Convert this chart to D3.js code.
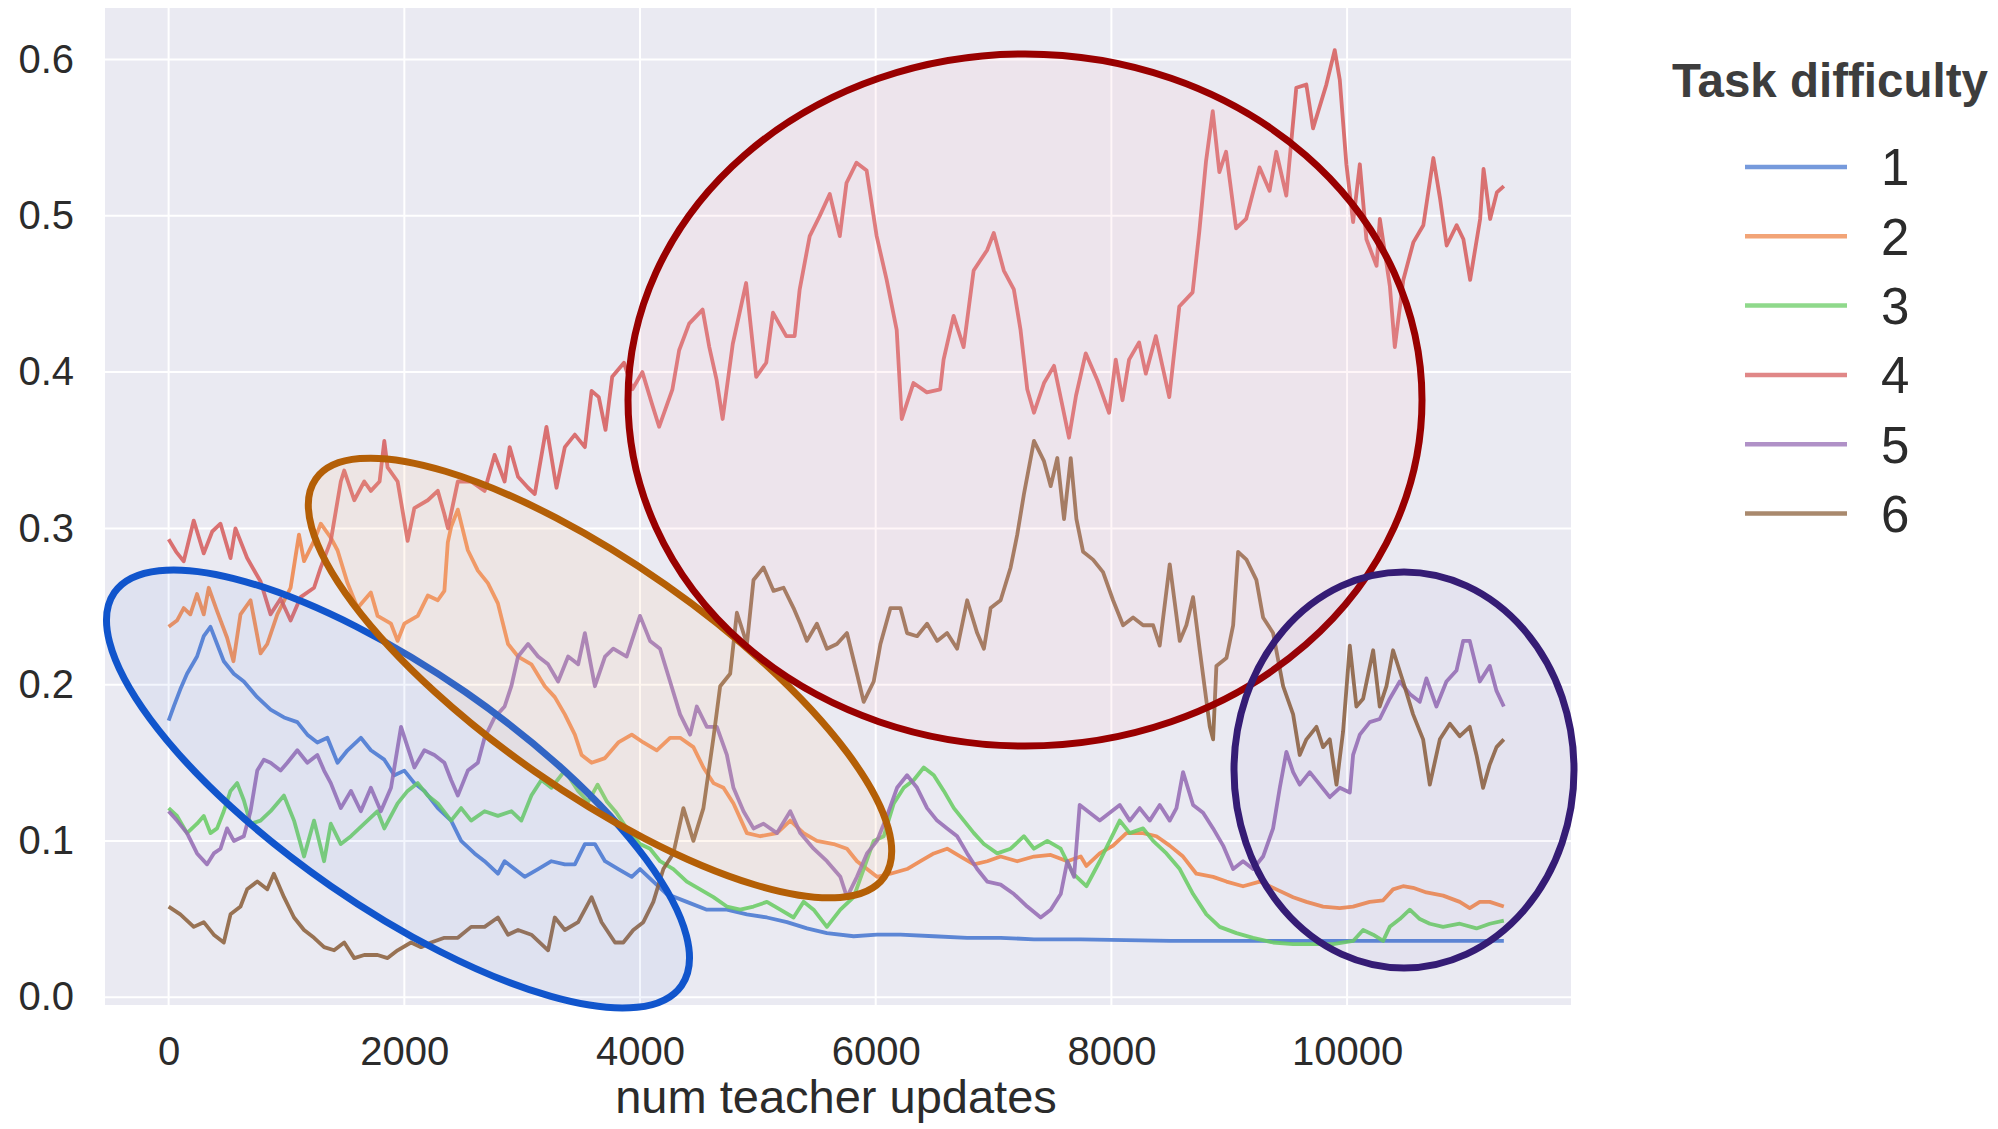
<!DOCTYPE html>
<html lang="en">
	<head>
		<meta charset="utf-8">
		<title>Task difficulty vs teacher updates</title>
		<script src="https://cdn.jsdelivr.net/npm/d3@7"></script>
		<style type="text/css">
			body { margin: 0; background: #fff; }
			text { font-family: "Liberation Sans", Arial, sans-serif; }
		</style>
	</head>
	<body>
		<div id="chart"></div>
		<script type="text/javascript">
		//Data: [num teacher updates, value]
			var task1 = [[0,0.177],[43,0.186],[99,0.197],[156,0.207],[241,0.218],[298,0.231],[355,0.237],[411,0.226],[468,0.215],[553,0.207],[638,0.202],[752,0.192],[865,0.184],[979,0.179],[1092,0.176],[1177,0.168],[1262,0.163],[1347,0.166],[1433,0.150],[1518,0.158],[1631,0.166],[1716,0.158],[1830,0.152],[1915,0.142],[2000,0.145],[2085,0.137],[2170,0.132],[2284,0.121],[2397,0.113],[2482,0.100],[2596,0.092],[2681,0.087],[2794,0.079],[2851,0.087],[2936,0.082],[3021,0.077],[3135,0.082],[3248,0.087],[3362,0.085],[3447,0.085],[3532,0.098],[3617,0.098],[3703,0.087],[3816,0.082],[3930,0.077],[4000,0.082],[4113,0.074],[4227,0.066],[4397,0.061],[4567,0.056],[4737,0.056],[4907,0.053],[5077,0.051],[5247,0.048],[5417,0.044],[5586,0.041],[5813,0.039],[6011,0.040],[6210,0.040],[6493,0.039],[6776,0.038],[7060,0.038],[7343,0.037],[7740,0.037],[8500,0.036],[9500,0.036],[10500,0.036],[11330,0.036]];

			var task2 = [[0,0.237],[71,0.241],[128,0.249],[184,0.245],[241,0.258],[298,0.245],[340,0.262],[411,0.247],[496,0.230],[550,0.215],[610,0.245],[695,0.254],[780,0.220],[837,0.226],[922,0.245],[1035,0.262],[1106,0.296],[1149,0.279],[1234,0.292],[1291,0.303],[1376,0.294],[1433,0.286],[1518,0.265],[1603,0.249],[1716,0.259],[1773,0.244],[1887,0.239],[1943,0.228],[2000,0.239],[2114,0.244],[2199,0.257],[2284,0.254],[2340,0.260],[2369,0.291],[2397,0.301],[2454,0.312],[2539,0.286],[2624,0.273],[2709,0.265],[2794,0.252],[2880,0.226],[2965,0.218],[3078,0.213],[3192,0.199],[3277,0.192],[3362,0.181],[3447,0.168],[3504,0.155],[3589,0.150],[3703,0.153],[3816,0.163],[3930,0.168],[4028,0.163],[4142,0.158],[4255,0.166],[4340,0.166],[4453,0.160],[4538,0.147],[4623,0.137],[4708,0.134],[4793,0.124],[4907,0.105],[5020,0.103],[5162,0.105],[5275,0.113],[5388,0.105],[5501,0.100],[5643,0.098],[5756,0.095],[5841,0.087],[5926,0.082],[6011,0.077],[6125,0.079],[6266,0.082],[6380,0.087],[6493,0.092],[6606,0.095],[6720,0.090],[6833,0.085],[6946,0.087],[7060,0.090],[7201,0.087],[7343,0.090],[7485,0.091],[7626,0.087],[7740,0.090],[7788,0.084],[7901,0.092],[8014,0.097],[8127,0.105],[8269,0.105],[8382,0.103],[8495,0.097],[8608,0.090],[8721,0.079],[8863,0.077],[8976,0.074],[9117,0.071],[9259,0.074],[9400,0.069],[9542,0.064],[9655,0.061],[9796,0.058],[9938,0.057],[10051,0.058],[10192,0.061],[10306,0.062],[10390,0.069],[10475,0.071],[10560,0.070],[10673,0.067],[10815,0.065],[10956,0.061],[11041,0.057],[11126,0.061],[11211,0.061],[11330,0.058]];

			var task3 = [[0,0.121],[71,0.116],[156,0.105],[241,0.111],[298,0.116],[355,0.105],[411,0.108],[468,0.119],[525,0.132],[582,0.137],[638,0.126],[695,0.111],[780,0.113],[865,0.119],[979,0.129],[1064,0.113],[1149,0.090],[1234,0.113],[1319,0.087],[1376,0.111],[1461,0.098],[1547,0.103],[1660,0.111],[1773,0.119],[1830,0.108],[1943,0.124],[2028,0.132],[2114,0.137],[2199,0.129],[2284,0.124],[2397,0.113],[2482,0.121],[2567,0.113],[2681,0.119],[2794,0.116],[2908,0.119],[2993,0.113],[3078,0.129],[3163,0.139],[3248,0.134],[3362,0.145],[3475,0.132],[3560,0.125],[3640,0.136],[3720,0.125],[3800,0.118],[3887,0.108],[4000,0.098],[4085,0.095],[4170,0.087],[4283,0.082],[4397,0.074],[4510,0.069],[4623,0.064],[4737,0.058],[4850,0.056],[4963,0.058],[5077,0.061],[5190,0.056],[5303,0.051],[5388,0.061],[5473,0.056],[5586,0.045],[5700,0.056],[5813,0.064],[5898,0.082],[5983,0.100],[6068,0.103],[6153,0.124],[6238,0.134],[6323,0.139],[6408,0.147],[6493,0.142],[6578,0.132],[6663,0.121],[6748,0.113],[6833,0.105],[6918,0.098],[7031,0.092],[7145,0.095],[7258,0.103],[7343,0.095],[7456,0.100],[7570,0.095],[7675,0.079],[7788,0.071],[7901,0.087],[7986,0.100],[8071,0.113],[8156,0.105],[8269,0.108],[8354,0.100],[8467,0.092],[8580,0.082],[8693,0.066],[8806,0.053],[8919,0.045],[9061,0.041],[9202,0.038],[9372,0.035],[9542,0.034],[9712,0.034],[9881,0.034],[10051,0.036],[10136,0.043],[10221,0.040],[10306,0.036],[10362,0.045],[10447,0.050],[10532,0.056],[10617,0.050],[10702,0.047],[10815,0.045],[10956,0.047],[11098,0.044],[11211,0.047],[11330,0.049]];

			var task4 = [[0,0.293],[64,0.285],[128,0.279],[213,0.305],[298,0.284],[370,0.298],[440,0.303],[525,0.281],[567,0.300],[666,0.281],[780,0.266],[865,0.245],[950,0.255],[1035,0.241],[1120,0.256],[1234,0.262],[1291,0.275],[1376,0.292],[1461,0.330],[1490,0.337],[1575,0.318],[1660,0.330],[1716,0.324],[1790,0.330],[1830,0.356],[1858,0.339],[1943,0.330],[2028,0.292],[2085,0.313],[2199,0.318],[2284,0.324],[2340,0.309],[2370,0.300],[2454,0.330],[2567,0.330],[2681,0.324],[2766,0.347],[2851,0.330],[2894,0.352],[2965,0.333],[3050,0.326],[3107,0.322],[3206,0.365],[3291,0.326],[3362,0.352],[3447,0.360],[3532,0.352],[3589,0.388],[3650,0.384],[3707,0.363],[3764,0.397],[3864,0.406],[3935,0.389],[4020,0.400],[4100,0.380],[4162,0.365],[4275,0.389],[4332,0.414],[4417,0.431],[4531,0.440],[4588,0.416],[4650,0.395],[4701,0.370],[4787,0.418],[4900,0.457],[4986,0.397],[5071,0.406],[5128,0.438],[5241,0.423],[5312,0.423],[5355,0.453],[5440,0.487],[5525,0.500],[5610,0.514],[5695,0.487],[5752,0.521],[5837,0.534],[5923,0.529],[6008,0.487],[6093,0.459],[6178,0.427],[6221,0.370],[6320,0.393],[6434,0.387],[6547,0.389],[6576,0.408],[6661,0.436],[6746,0.416],[6831,0.465],[6945,0.478],[7002,0.489],[7087,0.465],[7172,0.453],[7229,0.427],[7286,0.389],[7343,0.374],[7428,0.393],[7513,0.404],[7580,0.380],[7640,0.358],[7700,0.385],[7782,0.412],[7880,0.395],[7980,0.374],[8037,0.408],[8094,0.382],[8150,0.408],[8235,0.419],[8292,0.399],[8377,0.423],[8491,0.384],[8576,0.442],[8689,0.451],[8746,0.490],[8803,0.535],[8860,0.567],[8916,0.528],[8973,0.541],[9058,0.492],[9143,0.498],[9257,0.531],[9342,0.516],[9399,0.541],[9484,0.513],[9569,0.582],[9654,0.584],[9711,0.556],[9824,0.584],[9895,0.606],[9938,0.587],[9994,0.533],[10051,0.496],[10108,0.533],[10164,0.485],[10250,0.468],[10278,0.498],[10363,0.455],[10405,0.416],[10477,0.459],[10562,0.483],[10647,0.494],[10732,0.537],[10789,0.511],[10845,0.481],[10930,0.494],[10987,0.485],[11044,0.459],[11129,0.498],[11158,0.530],[11214,0.498],[11271,0.515],[11330,0.519]];

			var task5 = [[0,0.119],[71,0.113],[156,0.105],[241,0.092],[326,0.085],[383,0.092],[440,0.095],[496,0.108],[553,0.100],[638,0.103],[695,0.119],[752,0.145],[808,0.152],[865,0.150],[950,0.145],[1007,0.150],[1092,0.158],[1177,0.150],[1262,0.155],[1319,0.145],[1376,0.137],[1461,0.121],[1547,0.132],[1631,0.119],[1716,0.134],[1801,0.119],[1887,0.134],[1972,0.173],[2028,0.160],[2085,0.147],[2170,0.158],[2255,0.155],[2340,0.150],[2397,0.139],[2454,0.129],[2539,0.145],[2624,0.150],[2681,0.166],[2766,0.179],[2851,0.186],[2908,0.199],[2965,0.218],[3050,0.226],[3135,0.218],[3220,0.213],[3305,0.202],[3390,0.218],[3475,0.213],[3532,0.233],[3617,0.199],[3703,0.218],[3773,0.223],[3887,0.218],[4000,0.244],[4085,0.228],[4170,0.223],[4255,0.202],[4340,0.181],[4425,0.168],[4482,0.186],[4567,0.173],[4652,0.173],[4737,0.155],[4793,0.134],[4878,0.119],[4963,0.108],[5048,0.111],[5162,0.105],[5275,0.119],[5360,0.105],[5473,0.095],[5586,0.087],[5700,0.077],[5756,0.064],[5841,0.077],[5926,0.092],[6011,0.100],[6096,0.116],[6181,0.134],[6266,0.142],[6351,0.134],[6436,0.121],[6521,0.113],[6606,0.108],[6691,0.103],[6776,0.092],[6861,0.082],[6946,0.074],[7060,0.072],[7173,0.066],[7286,0.058],[7400,0.051],[7485,0.056],[7570,0.066],[7626,0.087],[7683,0.077],[7731,0.123],[7816,0.118],[7901,0.113],[7986,0.118],[8071,0.123],[8156,0.113],[8240,0.121],[8325,0.113],[8410,0.123],[8495,0.113],[8552,0.121],[8608,0.144],[8693,0.123],[8778,0.118],[8863,0.108],[8948,0.097],[9033,0.082],[9117,0.087],[9202,0.082],[9287,0.090],[9372,0.108],[9429,0.134],[9485,0.157],[9542,0.144],[9598,0.136],[9683,0.144],[9768,0.136],[9853,0.128],[9938,0.134],[10023,0.131],[10051,0.155],[10108,0.168],[10192,0.176],[10277,0.178],[10362,0.191],[10447,0.202],[10532,0.194],[10617,0.189],[10673,0.204],[10758,0.186],[10843,0.202],[10928,0.209],[10985,0.228],[11041,0.228],[11126,0.202],[11211,0.212],[11268,0.196],[11330,0.186]];

			var task6 = [[0,0.058],[99,0.053],[213,0.045],[298,0.048],[383,0.040],[468,0.035],[525,0.053],[610,0.058],[666,0.069],[752,0.074],[837,0.069],[893,0.079],[979,0.064],[1064,0.051],[1149,0.043],[1234,0.038],[1319,0.032],[1404,0.030],[1490,0.035],[1575,0.025],[1660,0.027],[1773,0.027],[1858,0.025],[1943,0.030],[2057,0.035],[2142,0.032],[2227,0.035],[2340,0.038],[2454,0.038],[2567,0.045],[2681,0.045],[2794,0.051],[2880,0.040],[2965,0.043],[3078,0.040],[3220,0.030],[3277,0.051],[3362,0.043],[3475,0.048],[3589,0.064],[3674,0.048],[3788,0.035],[3858,0.035],[3943,0.043],[4028,0.048],[4113,0.061],[4198,0.082],[4283,0.092],[4368,0.121],[4453,0.100],[4538,0.121],[4623,0.166],[4680,0.199],[4765,0.207],[4822,0.246],[4907,0.226],[4963,0.267],[5048,0.275],[5133,0.260],[5218,0.262],[5303,0.249],[5360,0.239],[5416,0.228],[5501,0.239],[5586,0.223],[5671,0.226],[5756,0.233],[5841,0.207],[5898,0.189],[5983,0.202],[6040,0.226],[6125,0.249],[6210,0.249],[6266,0.233],[6351,0.231],[6436,0.239],[6521,0.228],[6606,0.233],[6691,0.223],[6776,0.254],[6861,0.233],[6918,0.223],[6975,0.249],[7060,0.254],[7145,0.275],[7201,0.296],[7258,0.322],[7343,0.356],[7428,0.343],[7485,0.327],[7541,0.345],[7598,0.306],[7655,0.345],[7703,0.306],[7760,0.285],[7844,0.280],[7929,0.272],[8014,0.254],[8099,0.238],[8184,0.243],[8269,0.238],[8354,0.238],[8410,0.225],[8495,0.277],[8580,0.228],[8636,0.238],[8693,0.256],[8750,0.222],[8835,0.173],[8863,0.165],[8891,0.212],[8976,0.217],[9033,0.238],[9075,0.285],[9146,0.280],[9230,0.267],[9287,0.243],[9372,0.233],[9457,0.199],[9542,0.181],[9598,0.155],[9655,0.165],[9740,0.173],[9796,0.160],[9853,0.165],[9910,0.136],[9966,0.170],[10023,0.225],[10079,0.186],[10136,0.191],[10221,0.222],[10277,0.186],[10334,0.199],[10390,0.222],[10475,0.202],[10560,0.181],[10645,0.165],[10702,0.136],[10787,0.165],[10872,0.175],[10956,0.167],[11041,0.173],[11098,0.155],[11154,0.134],[11211,0.149],[11268,0.160],[11330,0.165]];

			var labels = ["1", "2", "3", "4", "5", "6"];
			var colors = ["#4878d0", "#ee854a", "#6acc64", "#d65f5f", "#956cb4", "#8c613c"];
			var xTicks = [0, 2000, 4000, 6000, 8000, 10000];
			var yTicks = [0.0, 0.1, 0.2, 0.3, 0.4, 0.5, 0.6];

		//Overall setup
			var w = 1998;
			var h = 1129;
			var plot = {left: 105, right: 1571, top: 8, bottom: 1005};

			var svg = d3.select("#chart")
				.append("svg")
				.attr("width", w)
				.attr("height", h);

			svg.append("rect")
				.attr("width", w)
				.attr("height", h)
				.attr("fill", "#ffffff");

			var x = d3.scaleLinear()
				.domain([-540, 11900])
				.range([plot.left, plot.right]);

			var y = d3.scaleLinear()
				.domain([-0.005, 0.633])
				.range([plot.bottom, plot.top]);

			//seaborn darkgrid background
			svg.append("rect")
				.attr("x", plot.left)
				.attr("y", plot.top)
				.attr("width", plot.right - plot.left)
				.attr("height", plot.bottom - plot.top)
				.attr("fill", "#eaeaf2");

			svg.append("g")
				.selectAll("line")
				.data(xTicks)
				.enter()
				.append("line")
				.attr("x1", function(d){ return x(d); })
				.attr("x2", function(d){ return x(d); })
				.attr("y1", plot.top)
				.attr("y2", plot.bottom)
				.attr("stroke", "#ffffff")
				.attr("stroke-width", 2);

			svg.append("g")
				.selectAll("line")
				.data(yTicks)
				.enter()
				.append("line")
				.attr("x1", plot.left)
				.attr("x2", plot.right)
				.attr("y1", function(d){ return y(d); })
				.attr("y2", function(d){ return y(d); })
				.attr("stroke", "#ffffff")
				.attr("stroke-width", 2);

		//Axes
			var xAxis = svg.append("g")
				.attr("transform", "translate(0," + plot.bottom + ")")
				.call(d3.axisBottom(x).tickValues(xTicks).tickSize(0).tickPadding(32)
					.tickFormat(function(d){ return d; }));

			var yAxis = svg.append("g")
				.attr("transform", "translate(" + plot.left + ",0)")
				.call(d3.axisLeft(y).tickValues(yTicks).tickSize(0).tickPadding(31)
					.tickFormat(d3.format(".1f")));

			[xAxis, yAxis].forEach(function(a){
				a.select(".domain").remove();
				a.selectAll("text")
					.attr("font-family", "'Liberation Sans', Arial, sans-serif")
					.attr("font-size", 40)
					.attr("fill", "#2b2b2b");
			});

			svg.append("text")
				.attr("x", 836)
				.attr("y", 1113)
				.attr("text-anchor", "middle")
				.attr("font-size", 47)
				.attr("fill", "#2b2b2b")
				.text("num teacher updates");

		//Lines
			var series = [task1, task2, task3, task4, task5, task6];

			var line = d3.line()
				.x(function(d){ return x(d[0]); })
				.y(function(d){ return y(d[1]); });

			svg.append("g")
				.selectAll("path")
				.data(series)
				.enter()
				.append("path")
				.attr("d", line)
				.attr("fill", "none")
				.attr("stroke", function(d, i){ return colors[i]; })
				.attr("stroke-width", 3.8)
				.attr("stroke-opacity", 0.88)
				.attr("stroke-linejoin", "round");

		//Highlight ellipses drawn over the plot
			var ellipses = [
				{cx: 398, cy: 789, rx: 345, ry: 118, rot: 34.7, stroke: "#1155cc", fill: "rgba(90,130,230,0.07)"},
				{cx: 600, cy: 678, rx: 347, ry: 114, rot: 35, stroke: "#b45f06", fill: "rgba(255,200,150,0.14)"},
				{cx: 1025, cy: 400, rx: 397, ry: 346, rot: 0, stroke: "#990000", fill: "rgba(255,190,205,0.14)"},
				{cx: 1404, cy: 770, rx: 170, ry: 198, rot: 0, stroke: "#351c75", fill: "rgba(90,70,170,0.04)"}
			];

			svg.append("g")
				.selectAll("ellipse")
				.data(ellipses)
				.enter()
				.append("ellipse")
				.attr("cx", 0)
				.attr("cy", 0)
				.attr("rx", function(d){ return d.rx; })
				.attr("ry", function(d){ return d.ry; })
				.attr("transform", function(d){ return "translate(" + d.cx + "," + d.cy + ") rotate(" + d.rot + ")"; })
				.attr("fill", function(d){ return d.fill; })
				.attr("stroke", function(d){ return d.stroke; })
				.attr("stroke-width", 7);

		//Legend
			var title = svg.append("text")
				.attr("x", 1672)
				.attr("y", 97)
				.attr("font-family", "Lato, 'Open Sans', sans-serif")
				.attr("font-weight", 700)
				.attr("font-size", 46)
				.attr("fill", "#3d3d3d")
				.text("Task difficulty");
			var tl = title.node().getComputedTextLength();
			title.attr("font-size", 46 * 316 / tl);

			var legend = svg.append("g")
				.selectAll("g")
				.data(labels)
				.enter()
				.append("g")
				.attr("transform", function(d, i){ return "translate(0," + (167 + i * 69.3) + ")"; });

			legend.append("line")
				.attr("x1", 1745)
				.attr("x2", 1847)
				.attr("stroke", function(d, i){ return colors[i]; })
				.attr("stroke-opacity", 0.75)
				.attr("stroke-width", 4.5);

			legend.append("text")
				.attr("x", 1881)
				.attr("dy", "0.36em")
				.attr("font-size", 51)
				.attr("fill", "#2b2b2b")
				.text(function(d){ return d; });
		</script>
</body>
</html>
